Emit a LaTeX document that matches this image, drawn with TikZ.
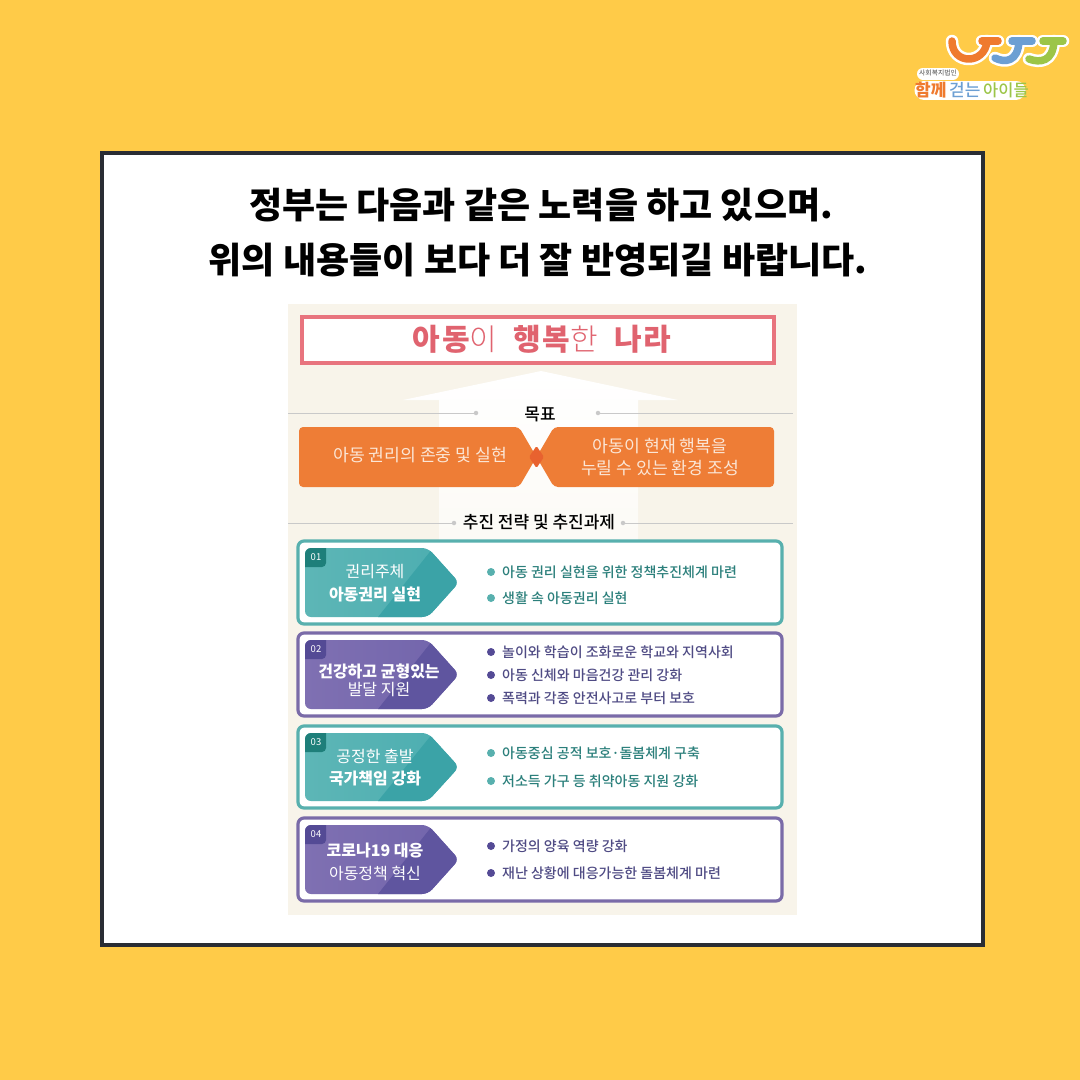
\documentclass[tikz,border=0pt]{standalone}
\usepackage{fontspec}
\setmainfont{Noto Sans CJK KR}
\newfontfamily\medk{Noto Sans CJK KR Medium}
\newfontfamily\lightk{Noto Sans CJK KR Light}
\newfontfamily\blackk{Noto Sans CJK KR Black}
\usetikzlibrary{shadings}
\definecolor{bgY}{HTML}{FFCB48}
\definecolor{frameK}{HTML}{2A2D34}
\definecolor{panelB}{HTML}{F8F4EA}
\definecolor{pinkR}{HTML}{E8747E}
\definecolor{pinkT}{HTML}{E0636F}
\definecolor{orangeB}{HTML}{EE7D36}
\definecolor{orangeD}{HTML}{E8622F}
\definecolor{orangeT}{HTML}{FBE6D6}
\definecolor{ruleG}{HTML}{C9C9C9}
\definecolor{tealB}{HTML}{58B0AE}
\definecolor{tealL}{HTML}{5DB6B6}
\definecolor{tealM}{HTML}{4BADB0}
\definecolor{tealD}{HTML}{3BA3A7}
\definecolor{tealK}{HTML}{1E7F7A}
\definecolor{tealT}{HTML}{2B7F7B}
\definecolor{purpB}{HTML}{7A6BA8}
\definecolor{purpL}{HTML}{7F70B2}
\definecolor{purpM}{HTML}{7164AB}
\definecolor{purpD}{HTML}{5F559F}
\definecolor{purpK}{HTML}{544A95}
\definecolor{purpT}{HTML}{4F4B84}
\definecolor{logoO}{HTML}{EF7A2E}
\definecolor{logoB}{HTML}{6C9FD3}
\definecolor{logoG}{HTML}{9CC548}
\newcommand{\fsz}[1]{\fontsize{#1}{#1}\selectfont}
\newcommand{\titleheavy}[1]{{\blackk\addfontfeature{LetterSpace=6}#1}}
\newcommand{\titlelight}[1]{{\lightk\addfontfeature{LetterSpace=6}#1}}
\tikzset{
  headline/.style={font=\fsz{36}\bfseries,text=black,inner sep=0pt},
  ruleline/.style={ruleG,line width=0.9},
  ruledot/.style={circle,fill=ruleG,inner sep=0pt,minimum size=4.5},
  smallhead/.style={font=\fsz{17}\medk,text=black,inner sep=0pt},
  goaltext/.style={font=\fsz{17.2},text=orangeT,inner sep=0pt},
  chevtext/.style={font=\fsz{16},text=white,inner sep=0pt},
  chevbold/.style={font=\fsz{16}\bfseries,text=white,inner sep=0pt},
  numtext/.style={font=\fsz{9.5},text=white,inner sep=0pt},
  itemtext/.style={font=\fsz{14}\medk,anchor=west,inner sep=0pt},
  logostroke/.style={line width=7.5,line cap=round,line join=round},
  logohalo/.style={white,line width=12.5,line cap=round,line join=round},
}
% #1 id, #2 top, #3 bottom, #4 border, #5 light, #6 mid, #7 dark, #8 tab, #9 number
\newcommand{\lessoncard}[9]{%
  \draw[#4,line width=3.2,fill=white,rounded corners=6] (298,#2) rectangle (782,#3);
  \begin{scope}
    \clip[rounded corners=6]
      (305,#2+7) -- (428,#2+7) -- (459,{(#2+#3)/2}) -- (428,#3-7) -- (305,#3-7) -- cycle;
    \path[left color=#5,right color=#6] (305,#2+7) rectangle (459,#3-7);
    \fill[#7] (378,#3-7) -- (433,#2+7) -- (460,#2+7) -- (460,#3-7) -- cycle;
    \fill[#8,rounded corners=4] (300,#2+2) -- (326,#2+2) -- (326,#2+26) -- (300,#2+26) -- cycle;
  \end{scope}
  \node[numtext] (num#1) at (316,#2+16) {#9};
}
\newcommand{\lessonitem}[5]{% id, y, dot colour, text colour, text
  \node[circle,fill=#3,inner sep=0pt,minimum size=8] (dot#1) at (491,#2) {};
  \node[itemtext,text=#4] (item#1) at (502,#2) {#5};
}
\begin{document}
\begin{tikzpicture}[x=1pt,y=-1pt]
\useasboundingbox (0,0) rectangle (1080,1080);
\fill[bgY] (0,0) rectangle (1080,1080);
% logo
\draw[logohalo] (952,41) .. controls (952,65) and (985,65) .. (987,41);
\draw[logohalo] (982,41) -- (998,41);
\draw[logohalo] (995,58) .. controls (1005,63) and (1018,62) .. (1019,41);
\draw[logohalo] (1012,41) -- (1032,41);
\draw[logohalo] (1029,59) .. controls (1040,63) and (1053,62) .. (1054,41);
\draw[logohalo] (1043,41) -- (1063,41);
\draw[white,line width=12,line cap=round] (923,73.5) -- (953,73.5);
\draw[white,line width=19,line cap=round] (924,90) -- (1016,90);
\draw[logostroke,logoG] (1029,59) .. controls (1040,63) and (1053,62) .. (1054,41);
\draw[logostroke,logoG] (1043,41) -- (1063,41);
\draw[logostroke,logoB] (995,58) .. controls (1005,63) and (1018,62) .. (1019,41);
\draw[logostroke,logoB] (1012,41) -- (1032,41);
\draw[logostroke,logoO] (952,41) .. controls (952,65) and (985,65) .. (987,41);
\draw[logostroke,logoO] (982,41) -- (998,41);
\node[font=\fsz{6.8},text=black!70,inner sep=0pt] (logoorg) at (938,73) {사회복지법인};
\node[font=\fsz{17}\bfseries,text=logoO,inner sep=0pt,anchor=west] (logoa) at (915,90) {함께};
\node[font=\fsz{17}\medk,text=logoB,inner sep=0pt,anchor=west] (logob) at (949,90) {걷는};
\node[font=\fsz{16.5}\medk,text=logoG,inner sep=0pt,anchor=west] (logoc) at (983,90) {아이들};
% card
\draw[frameK,line width=4,fill=white] (102,153) rectangle (983,945);
\node[headline] (h1) at (541,205) {정부는 다음과 같은 노력을 하고 있으며.};
\node[headline] (h2) at (538,260) {위의 내용들이 보다 더 잘 반영되길 바랍니다.};
% panel
\fill[panelB] (288,304) rectangle (797,915);
% big arrow
\path[top color=white,bottom color=panelB!45!white]
  (541,371) -- (678,400) -- (638,400) -- (638,543) -- (439,543) -- (439,400) -- (403,400) -- cycle;
\draw[pinkR,line width=4.6,fill=white] (302,317) rectangle (774,363);
\node[inner sep=0pt,text=pinkT,font=\fsz{30}] (goaltitle) at (542,339)
  {\titleheavy{아동}\titlelight{이}\hspace{16pt}\titleheavy{행복}\titlelight{한}\hspace{16pt}\titleheavy{나라}};
\draw[ruleline] (288,413) -- (476,413);
\draw[ruleline] (598,413) -- (793,413);
\node[ruledot] (d1) at (476,413) {};
\node[ruledot] (d2) at (598,413) {};
\node[smallhead] (goal) at (540,414) {목표};
% orange shapes
\fill[orangeB,rounded corners=4] (299,427) -- (519,427) [sharp corners] -- (536.5,457) [rounded corners=4] -- (519,487) -- (299,487) -- cycle;
\fill[orangeB,rounded corners=4] (774,427) -- (554,427) [sharp corners] -- (536.5,457) [rounded corners=4] -- (554,487) -- (774,487) -- cycle;
\fill[orangeD,rounded corners=1.5] (536.5,446) -- (544,457) -- (536.5,468) -- (529,457) -- cycle;
\node[goaltext] (g1) at (420,455) {아동 권리의 존중 및 실현};
\node[goaltext] (g2a) at (660,446) {아동이 현재 행복을};
\node[goaltext] (g2b) at (660,468) {누릴 수 있는 환경 조성};
% strategies
\draw[ruleline] (288,523) -- (454,523);
\draw[ruleline] (623,523) -- (793,523);
\node[ruledot] (d3) at (454,523) {};
\node[ruledot] (d4) at (623,523) {};
\node[smallhead] (strat) at (539,522) {추진 전략 및 추진과제};
% cards
\lessoncard{a}{541}{624}{tealB}{tealL}{tealM}{tealD}{tealK}{01}
\node[chevtext] (a1) at (375,572) {권리주체};
\node[chevbold] (a2) at (375,594) {아동권리 실현};
\lessonitem{a1}{572}{tealB}{tealT}{아동 권리 실현을 위한 정책추진체계 마련}
\lessonitem{a2}{598}{tealB}{tealT}{생활 속 아동권리 실현}
\lessoncard{b}{633}{716}{purpB}{purpL}{purpM}{purpD}{purpK}{02}
\node[chevbold] (b1) at (379,671) {건강하고 균형있는};
\node[chevtext] (b2) at (379,689) {발달 지원};
\lessonitem{b1}{652}{purpK}{purpT}{놀이와 학습이 조화로운 학교와 지역사회}
\lessonitem{b2}{675}{purpK}{purpT}{아동 신체와 마음건강 관리 강화}
\lessonitem{b3}{698}{purpK}{purpT}{폭력과 각종 안전사고로 부터 보호}
\lessoncard{c}{726}{808}{tealB}{tealL}{tealM}{tealD}{tealK}{03}
\node[chevtext] (c1) at (375,756) {공정한 출발};
\node[chevbold] (c2) at (375,779) {국가책임 강화};
\lessonitem{c1}{753}{tealB}{tealT}{아동중심 공적 보호·돌봄체계 구축}
\lessonitem{c2}{781}{tealB}{tealT}{저소득 가구 등 취약아동 지원 강화}
\lessoncard{d}{818}{901}{purpB}{purpL}{purpM}{purpD}{purpK}{04}
\node[chevbold] (d1t) at (375,850) {코로나19 대응};
\node[chevtext] (d2t) at (375,873) {아동정책 혁신};
\lessonitem{d1}{846}{purpK}{purpT}{가정의 양육 역량 강화}
\lessonitem{d2}{873}{purpK}{purpT}{재난 상황에 대응가능한 돌봄체계 마련}
\end{tikzpicture}
\end{document}
